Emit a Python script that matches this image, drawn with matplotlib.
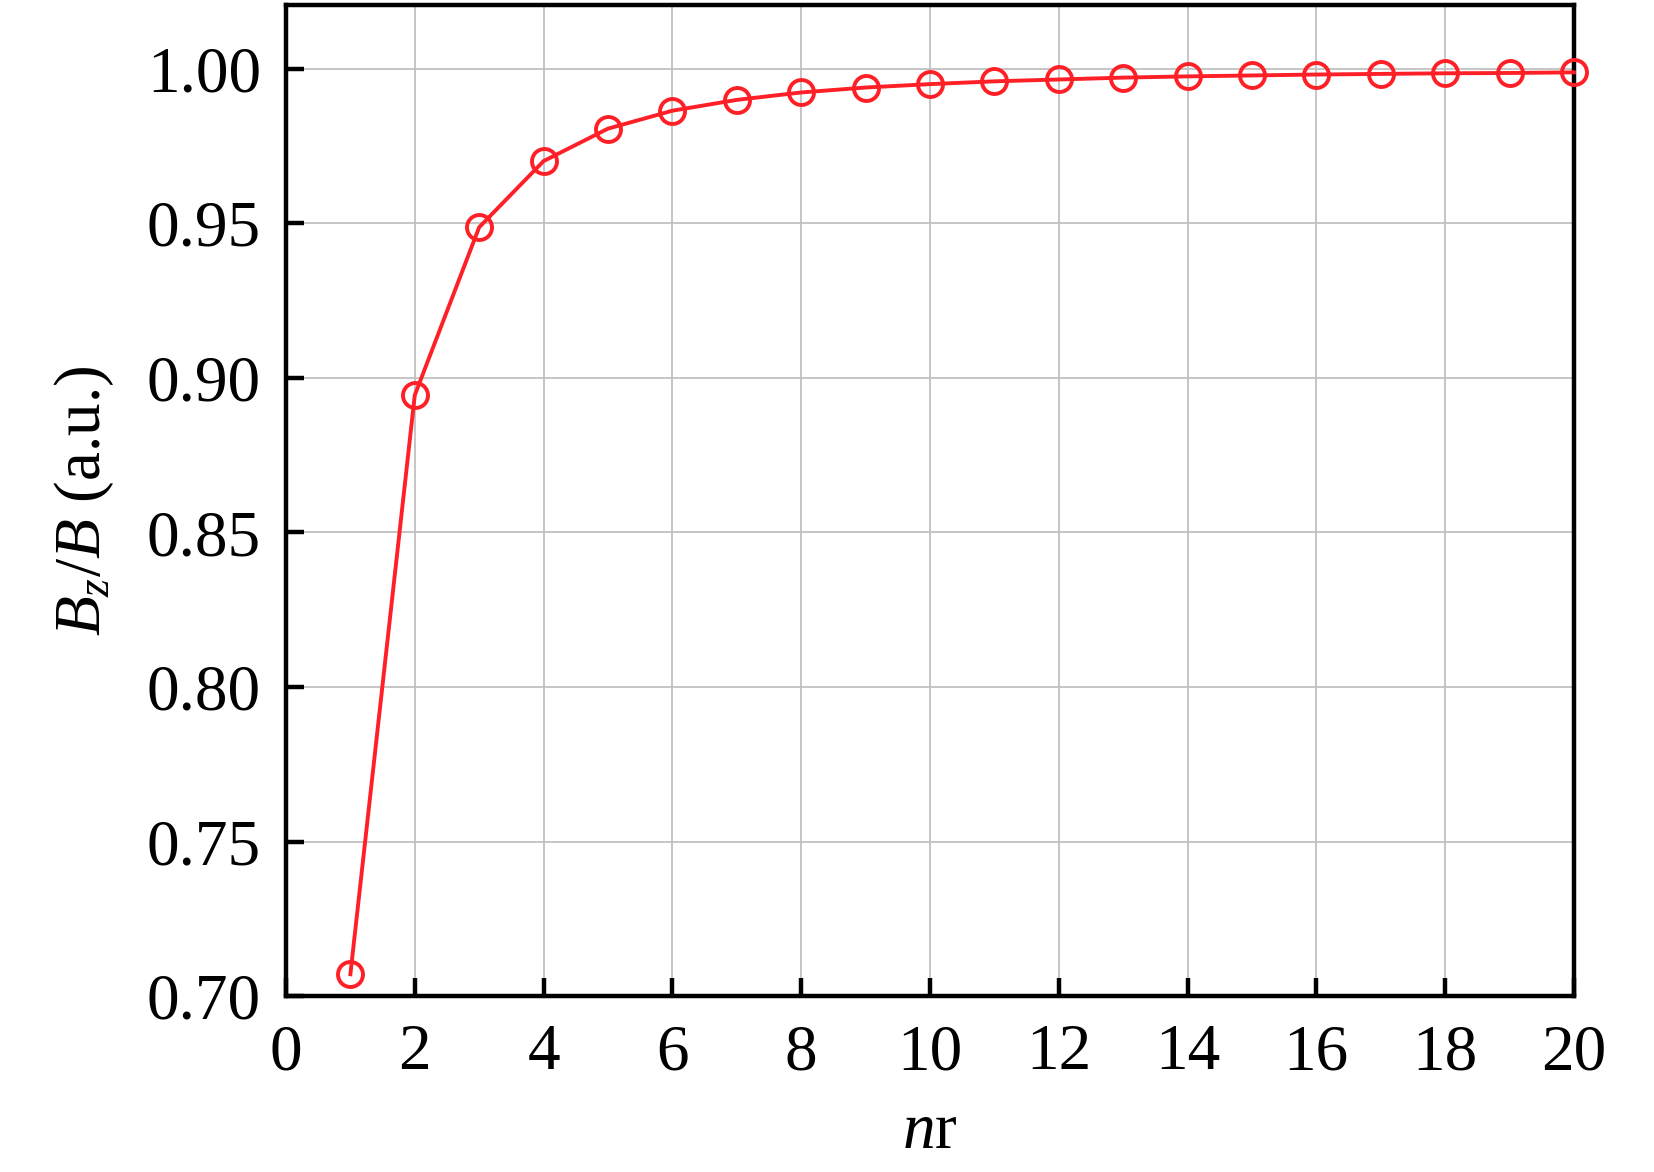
#!/usr/bin/env python
"""Bz/B ratio versus nr, red open-circle line on a light grid."""

import matplotlib

matplotlib.use("Agg")
import matplotlib.pyplot as plt

nr = [1, 2, 3, 4, 5, 6, 7, 8, 9, 10, 11, 12, 13, 14, 15, 16, 17, 18, 19, 20]
bz_over_b = [
    0.7071, 0.8944, 0.9487, 0.9701, 0.9806, 0.9864, 0.9899, 0.9923, 0.9939, 0.9950,
    0.9959, 0.9965, 0.9971, 0.9975, 0.9978, 0.9981, 0.9983, 0.9985, 0.9986, 0.9988,
]
x_ticks = list(range(0, 21, 2))
y_ticks = [0.70, 0.75, 0.80, 0.85, 0.90, 0.95, 1.00]

plt.rcParams["font.family"] = ["Liberation Serif", "DejaVu Serif"]
plt.rcParams["mathtext.fontset"] = "custom"
plt.rcParams["mathtext.rm"] = "Liberation Serif"
plt.rcParams["mathtext.it"] = "Liberation Serif:italic"


def main() -> None:
    fig = plt.figure(figsize=(16.54, 11.72), dpi=100)
    ax = fig.add_axes([0.1729, 0.150, 0.7787, 0.8455])

    ax.plot(
        nr, bz_over_b,
        color="#ff1f26", linewidth=2.8,
        marker="o", markersize=18, markerfacecolor="none",
        markeredgewidth=2.8, markeredgecolor="#ff1f26",
        clip_on=False, zorder=3,
    )

    ax.set_xlim(0, 20)
    ax.set_ylim(0.70, 1.0205)
    ax.set_xticks(x_ticks)
    ax.set_yticks(y_ticks)
    ax.set_yticklabels([f"{v:.2f}" for v in y_ticks])

    ax.grid(True, color="#c0c0c0", linewidth=1.3)
    ax.set_axisbelow(True)

    for spine in ax.spines.values():
        spine.set_linewidth(3.2)
    ax.tick_params(direction="in", length=13, width=3.2, labelsize=47,
                   top=False, right=False)
    ax.tick_params(axis="x", pad=20)
    ax.tick_params(axis="y", pad=18)

    ax.set_xlabel("$n$r", fontsize=47, labelpad=14)
    ax.set_ylabel("$B_z$/$B$ (a.u.)", fontsize=47, labelpad=22)

    fig.savefig("out.png", dpi=100)


if __name__ == "__main__":
    main()
